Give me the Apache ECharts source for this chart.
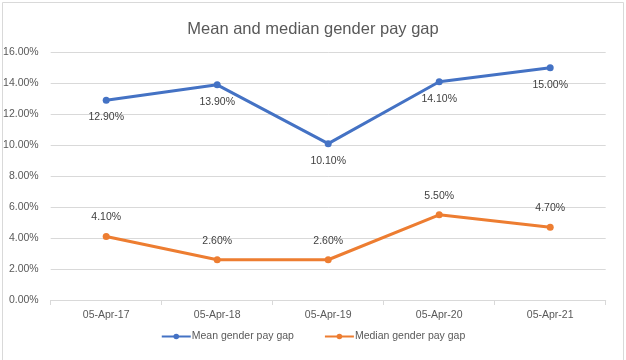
<!DOCTYPE html>
<html>
<head>
<meta charset="utf-8">
<script src="https://cdn.jsdelivr.net/npm/echarts@6/dist/echarts.min.js"></script>
<style>
html,body{margin:0;padding:0;background:#fff;}
#c{width:626px;height:360px;}
</style>
</head>
<body>
<div id="c"></div>
<script>
const categories = ['05-Apr-17', '05-Apr-18', '05-Apr-19', '05-Apr-20', '05-Apr-21'];
const meanGap = [12.9, 13.9, 10.1, 14.1, 15.0];
const medianGap = [4.1, 2.6, 2.6, 5.5, 4.7];
const seriesNames = ['Mean gender pay gap', 'Median gender pay gap'];

const FONT = 'Liberation Sans';
const TXT = '#595959';
const chart = echarts.init(document.getElementById('c'), null, {renderer: 'canvas'});
chart.setOption({
  animation: false,
  backgroundColor: '#fff',
  graphic: [{
    type: 'rect', left: 0, top: 0,
    shape: {x: 0.5, y: 0.5, width: 621, height: 358},
    style: {fill: 'none', stroke: '#d9d9d9', lineWidth: 1}
  }],
  title: {
    text: 'Mean and median gender pay gap',
    left: 'center', top: 16,
    textStyle: {fontFamily: FONT, fontSize: 16.5, fontWeight: 'normal', color: TXT}
  },
  legend: {
    bottom: 13, left: 'center',
    itemWidth: 29, itemHeight: 7, itemGap: 30,
    textStyle: {fontFamily: FONT, fontSize: 10.5, color: TXT, padding: [0,0,0,-4]},
    data: seriesNames
  },
  grid: {left: 50.7, right: 20.3, top: 52.3, bottom: 60, containLabel: false},
  xAxis: {
    type: 'category', data: categories, boundaryGap: true,
    axisLine: {lineStyle: {color: '#d9d9d9', width: 1}},
    axisTick: {show: true, length: 5, lineStyle: {color: '#d9d9d9'}},
    axisLabel: {fontFamily: FONT, fontSize: 10.5, color: TXT, margin: 10}
  },
  yAxis: {
    type: 'value', min: 0, max: 16, interval: 2,
    axisLine: {show: false}, axisTick: {show: false},
    splitLine: {lineStyle: {color: '#d9d9d9', width: 1}},
    axisLabel: {fontFamily: FONT, fontSize: 10.5, color: TXT, margin: 12,
      formatter: v => v.toFixed(2) + '%'}
  },
  series: [
    {
      name: seriesNames[0], type: 'line', data: meanGap,
      symbol: 'circle', symbolSize: 7,
      lineStyle: {color: '#4472C4', width: 3},
      itemStyle: {color: '#4472C4'},
      label: {show: true, position: 'bottom', distance: 8, fontFamily: FONT, fontSize: 10.5, color: '#404040',
        formatter: p => p.value.toFixed(2) + '%'}
    },
    {
      name: seriesNames[1], type: 'line', data: medianGap,
      symbol: 'circle', symbolSize: 7,
      lineStyle: {color: '#ED7D31', width: 3},
      itemStyle: {color: '#ED7D31'},
      label: {show: true, position: 'top', distance: 10, fontFamily: FONT, fontSize: 10.5, color: '#404040',
        formatter: p => p.value.toFixed(2) + '%'}
    }
  ]
});
</script>
</body>
</html>
